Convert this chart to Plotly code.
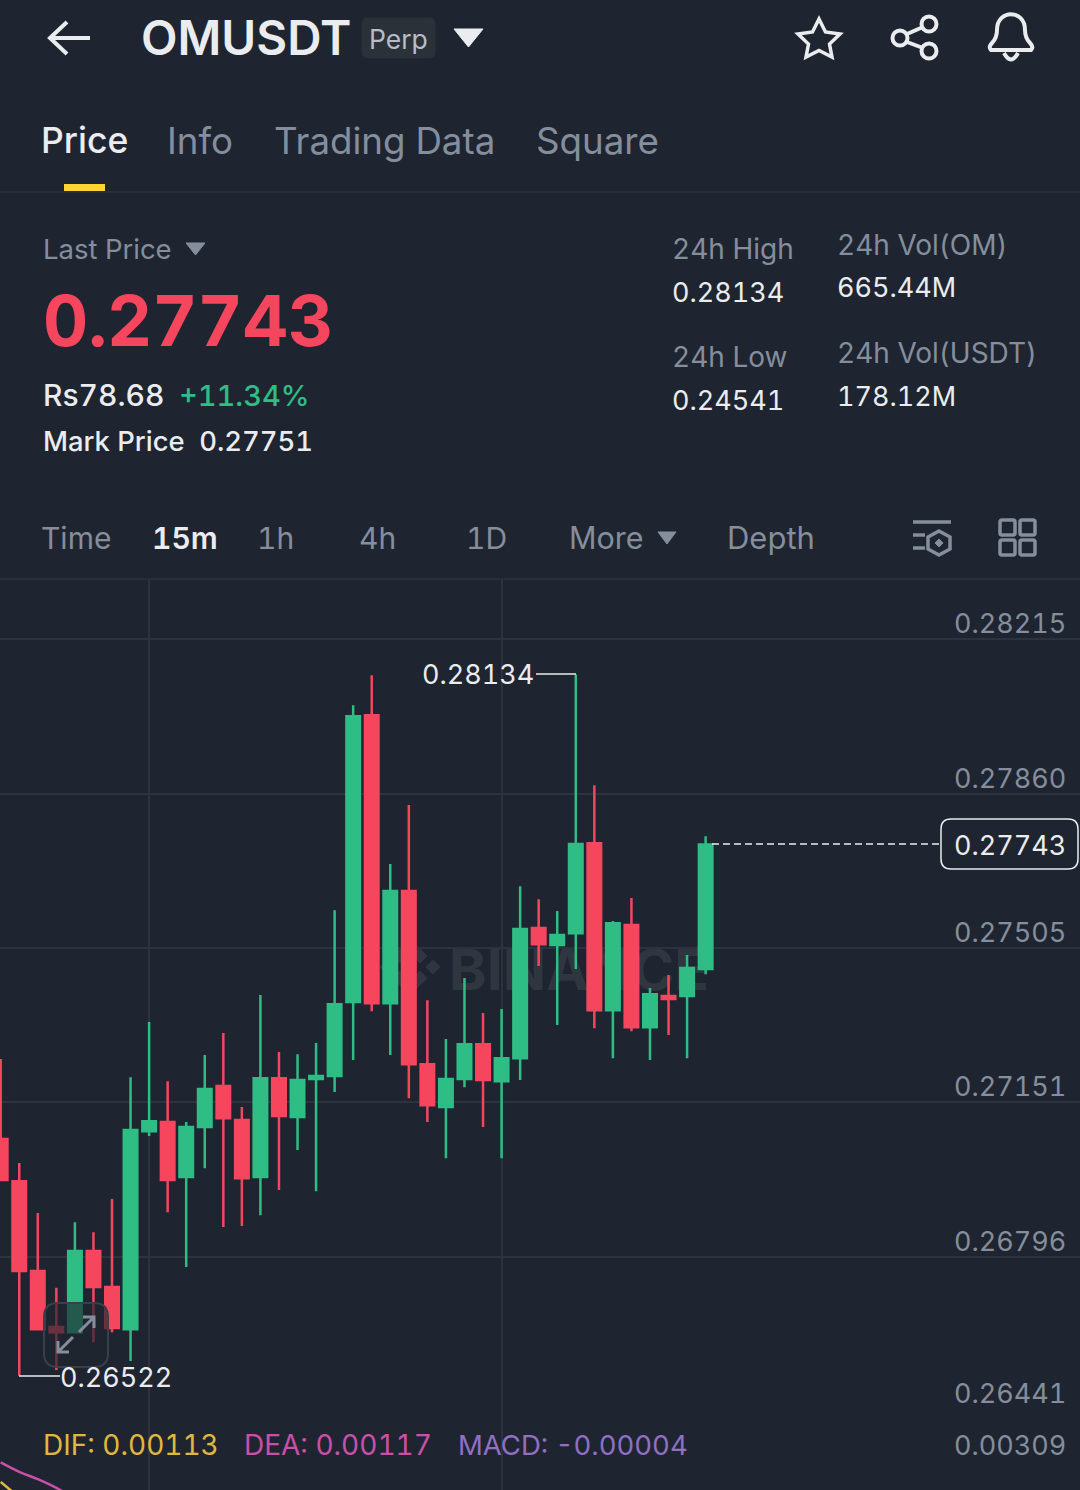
import plotly.graph_objects as go

FONT = "Inter"
BG = "#1f2530"
GRID = "#2d333e"
WHITE = "#eaecef"
GRAY = "#848e9c"
GREEN = "#2ebd85"
RED = "#f6465d"
W, H = 1080, 1490

# candles, oldest first
opens = [0.27066, 0.26969, 0.26763, 0.26634, 0.26622, 0.26809, 0.26726, 0.26629, 0.27084, 0.27105,
         0.26979, 0.27094, 0.27188, 0.27110, 0.26979, 0.27206, 0.27117, 0.27204, 0.27211, 0.27381,
         0.28040, 0.27378, 0.27636, 0.27238, 0.27140, 0.27204, 0.27284, 0.27199, 0.27252, 0.27551,
         0.27512, 0.27539, 0.27746, 0.27362, 0.27558, 0.27323, 0.27395, 0.27395, 0.27457]
highs = [0.27250, 0.27011, 0.26896, 0.26724, 0.26875, 0.26852, 0.26928, 0.27208, 0.27335, 0.27199,
         0.27105, 0.27259, 0.27310, 0.27140, 0.27397, 0.27266, 0.27261, 0.27287, 0.27592, 0.28063,
         0.28132, 0.27698, 0.27834, 0.27385, 0.27296, 0.27436, 0.27356, 0.27365, 0.27647, 0.27617,
         0.27590, 0.28134, 0.27879, 0.27567, 0.27620, 0.27413, 0.27443, 0.27489, 0.27762]
lows = [0.26969, 0.26522, 0.26627, 0.26535, 0.26620, 0.26599, 0.26622, 0.26556, 0.27073, 0.26898,
        0.26772, 0.26999, 0.26864, 0.26866, 0.26891, 0.26949, 0.27041, 0.26946, 0.27174, 0.27248,
        0.27360, 0.27259, 0.27160, 0.27105, 0.27022, 0.27185, 0.27094, 0.27022, 0.27202, 0.27464,
        0.27328, 0.27457, 0.27321, 0.27252, 0.27314, 0.27248, 0.27305, 0.27252, 0.27445]
closes = [0.26972, 0.26763, 0.26629, 0.26622, 0.26809, 0.26726, 0.26632, 0.27087, 0.27107, 0.26972,
          0.27094, 0.27181, 0.27114, 0.26976, 0.27206, 0.27119, 0.27202, 0.27211, 0.27376, 0.28038,
          0.27378, 0.27636, 0.27238, 0.27144, 0.27204, 0.27284, 0.27202, 0.27252, 0.27549, 0.27514,
          0.27535, 0.27744, 0.27362, 0.27562, 0.27323, 0.27399, 0.27388, 0.27459, 0.27743]
candle_idx = list(range(len(opens)))

price_ticks = [0.28215, 0.27860, 0.27505, 0.27151, 0.26796, 0.26441]
time_grid = [8, 27]

# only the left end of the MACD lines is on screen
dea_values = [0.00238, 0.00225, 0.00215, 0.00203, 0.00188]
dif_values = [0.00211, 0.00190, 0.00170]

tabs = ["Price", "Info", "Trading Data", "Square"]
periods = ["Time", "15m", "1h", "4h", "1D", "More", "Depth"]


def px(x):
    return x / W


def py(y):
    return 1 - y / H


def path_px(d):
    # pixel path -> paper path
    out = []
    nums = 0
    for tok in d.split():
        if tok.isalpha():
            out.append(tok)
            nums = 0
        else:
            v = float(tok)
            val = px(v) if nums % 2 == 0 else py(v)
            sep = "," if nums % 2 == 1 else " "
            out.append(f"{sep}{val:.6f}" if nums % 2 == 1 else f"{val:.6f}")
            nums += 1
    return " ".join(out).replace(" ,", ",")


def tabular(text):
    # the app's digits are all one width
    return f'<span style="font-variant-numeric:tabular-nums">{text}</span>'


shapes = []
annotations = []


def label(x, y, text, size, color=WHITE, anchor="left", weight=400):
    # glyphs have a little side bearing, pull left-anchored text back onto x
    x = x - 2 if anchor == "left" else x + 1
    annotations.append(
        dict(
            x=px(x), y=py(y), xref="paper", yref="paper", text=tabular(text), showarrow=False,
            xanchor=anchor, yanchor="middle", borderpad=0,
            font=dict(family=FONT, size=size, color=color, weight=weight),
        )
    )


def stroke(d, color=WHITE, width=4, fill=None, layer="above"):
    shapes.append(
        dict(
            type="path", path=path_px(d), xref="paper", yref="paper", layer=layer,
            line=dict(color=color, width=width),
            fillcolor=fill if fill else "rgba(0,0,0,0)",
        )
    )


def tri(x0, x1, y0, y1, color):
    stroke(f"M {x0} {y0} L {x1} {y0} L {(x0 + x1) / 2} {y1} Z", color=color, width=1, fill=color)


def circle(cx, cy, r, color=WHITE, width=4):
    shapes.append(
        dict(
            type="circle", xref="paper", yref="paper",
            x0=px(cx - r), x1=px(cx + r), y0=py(cy + r), y1=py(cy - r),
            line=dict(color=color, width=width),
        )
    )


def round_rect(x0, y0, x1, y1, r, color, width=2, fill=None):
    stroke(
        f"M {x0 + r} {y0} L {x1 - r} {y0} Q {x1} {y0} {x1} {y0 + r} L {x1} {y1 - r} Q {x1} {y1} {x1 - r} {y1} "
        f"L {x0 + r} {y1} Q {x0} {y1} {x0} {y1 - r} L {x0} {y0 + r} Q {x0} {y0} {x0 + r} {y0} Z",
        color=color, width=width, fill=fill,
    )


# header
stroke("M 50 38 L 90 38 M 67 22 L 50 38 L 67 54", width=4)
label(142, 38, "OMUSDT", 47.5, weight=600)
round_rect(362, 18, 435, 58, 6, "#2b3139", width=1, fill="#2b3139")
label(370, 39, "Perp", 26.5, "#b7bdc6")
tri(454, 483, 29, 47, WHITE)
stroke("M 819 19 L 825.5 32 L 840 34 L 829.5 44 L 832 57 L 819 50.5 L 806 57 L 808.5 44 L 798 34 L 812.5 32 Z", width=3.5)
circle(929, 24, 7.5)
circle(900, 38, 7.5)
circle(929, 51, 7.5)
stroke("M 907 34 L 923 27 M 907 42 L 923 48")
stroke("M 991 50 Q 988 47 992 43 Q 997 38 997 30 C 997 9 1025 9 1025 30 Q 1025 38 1030 43 Q 1034 47 1031 50 Z")
stroke("M 1004 53 Q 1011 66 1018 53")

# tabs
for name, x, col in zip(tabs, [42, 168, 275, 537], [WHITE, GRAY, GRAY, GRAY]):
    label(x, 141, name, 35.5 if name == "Price" else 36.7, col, weight=500 if name == "Price" else 400)
stroke("M 64 187.5 L 105 187.5", color="#fcd535", width=7)
stroke("M 0 192 L 1080 192", color=GRID, width=1.5)

# price block
label(44, 249, "Last Price", 27.5, GRAY)
tri(186, 205, 243, 255, GRAY)
label(44, 320, "0.27743", 70, RED, weight=700)
label(44, 395, "Rs78.68", 30, WHITE, weight=500)
label(180, 395, "+11.34%", 29, GREEN, weight=500)
label(44, 441, "Mark Price&nbsp;&nbsp;0.27751", 27.4, WHITE, weight=500)

label(673, 249, "24h High", 28, GRAY)
label(673, 292, "0.28134", 27, WHITE)
label(673, 357, "24h Low", 28, GRAY)
label(673, 400, "0.24541", 27, WHITE)
label(838, 245, "24h Vol(OM)", 28, GRAY)
label(838, 288, "665.44M", 27, WHITE)
label(838, 353, "24h Vol(USDT)", 28, GRAY)
label(838, 396, "178.12M", 27, WHITE)

# period row
for name, x, size in zip(periods, [42, 153, 258, 360, 467, 570, 728], [30, 30, 30, 30, 30, 30.5, 31]):
    if name == "15m":
        label(x, 538, name, size, WHITE, weight=600)
    else:
        label(x, 538, name, size, GRAY)
tri(658, 676, 532, 544, GRAY)
stroke("M 913 522 L 951 522 M 913 535 L 925 535 M 913 548 L 925 548", color=GRAY, width=3.5)
stroke("M 939 531 L 950 537 L 950 549 L 939 555 L 928 549 L 928 537 Z", color=GRAY, width=3.5)
stroke("M 939 539 L 943 543 L 939 547 L 935 543 Z", color=GRAY, width=1, fill=GRAY)
for x0, y0 in [(1000, 520), (1020, 520), (1000, 540), (1020, 540)]:
    round_rect(x0, y0, x0 + 15, y0 + 15, 2, GRAY, width=3.5)
stroke("M 0 579 L 1080 579", color=GRID, width=1.5)

# watermark sits under the candles
MARK = "#30363f"
stroke("M 410 939 L 427 956 L 420 963 L 410 953 L 400 963 L 393 956 Z", color=MARK, width=1, fill=MARK, layer="below")
stroke("M 410 995 L 427 978 L 420 971 L 410 981 L 400 971 L 393 978 Z", color=MARK, width=1, fill=MARK, layer="below")
for cx in [387, 410, 433]:
    stroke(f"M {cx} 960 L {cx + 7} 967 L {cx} 974 L {cx - 7} 967 Z", color=MARK, width=1, fill=MARK, layer="below")
shapes.append(
    dict(
        type="rect", xref="paper", yref="paper", layer="below",
        x0=px(450), x1=px(708), y0=py(992), y1=py(942),
        line=dict(width=0), fillcolor="rgba(0,0,0,0)",
        label=dict(text="<b>BINANCE</b>", textposition="middle center",
                   font=dict(family=FONT, size=57, color=MARK)),
    )
)

# high / low / last markers
stroke("M 536 674 L 576 674", color=WHITE, width=1.5)
label(534, 675, "0.28134", 27, WHITE, anchor="right")
stroke("M 19 1376 L 60 1376", color=WHITE, width=1.5)
label(61, 1377, "0.26522", 27, WHITE)
shapes.append(
    dict(
        type="line", xref="paper", yref="paper",
        x0=px(712), x1=px(940), y0=py(844), y1=py(844),
        line=dict(color=WHITE, width=1.5, dash="7px,4px"),
    )
)
round_rect(941, 819, 1078, 869, 10, WHITE, width=1.5, fill=BG)
label(1066, 845, "0.27743", 27, WHITE, anchor="right")

# expand button over the chart
round_rect(44, 1303, 108, 1367, 14, "#3a404b", width=2, fill="rgba(31,37,48,0.65)")
stroke("M 58 1352 L 73 1337 M 58 1341 L 58 1352 L 69 1352", color=GRAY, width=3)
stroke("M 79 1332 L 94 1317 M 83 1317 L 94 1317 L 94 1328", color=GRAY, width=3)

# MACD row
label(44, 1445, "DIF: 0.00113", 28, "#e0b83c")
label(245, 1445, "DEA: 0.00117", 28, "#c94fa8")
label(459, 1445, "MACD: -0.00004", 27.5, "#8f70c4")
label(1066, 1445, "0.00309", 27, GRAY, anchor="right")

# price scale labels float just above their grid lines
for v in price_ticks:
    annotations.append(
        dict(
            x=px(1067), y=v, xref="paper", yref="y", text=tabular(f"{v:.5f}"), showarrow=False,
            xanchor="right", yanchor="middle", yshift=18 if v == price_ticks[-1] else 15.5, borderpad=0,
            font=dict(family=FONT, size=27, color=GRAY),
        )
    )

fig = go.Figure()
fig.add_trace(
    go.Candlestick(
        x=candle_idx, open=opens, high=highs, low=lows, close=closes,
        increasing=dict(line=dict(color=GREEN, width=2.5), fillcolor=GREEN),
        decreasing=dict(line=dict(color=RED, width=2.5), fillcolor=RED),
        whiskerwidth=0, hoverinfo="skip", showlegend=False,
    )
)
fig.add_trace(
    go.Scatter(x=candle_idx[:len(dea_values)], y=dea_values, mode="lines", xaxis="x2", yaxis="y2",
               line=dict(color="#c94fa8", width=2.5, shape="spline"), hoverinfo="skip", showlegend=False)
)
fig.add_trace(
    go.Scatter(x=candle_idx[:len(dif_values)], y=dif_values, mode="lines", xaxis="x2", yaxis="y2",
               line=dict(color="#e0b83c", width=2.5, shape="spline"), hoverinfo="skip", showlegend=False)
)

x_range = [-0.0377, 58.18]
fig.update_layout(
    width=W, height=H,
    margin=dict(l=0, r=0, t=0, b=0),
    paper_bgcolor=BG, plot_bgcolor=BG,
    boxgap=0.272, boxgroupgap=0,
    showlegend=False,
    shapes=shapes,
    annotations=annotations,
    xaxis=dict(
        domain=[0, 1], range=x_range, anchor="y", rangeslider=dict(visible=False),
        tickmode="array", tickvals=time_grid, showticklabels=False, ticks="",
        showgrid=True, gridcolor=GRID, gridwidth=1.5, zeroline=False, showline=False,
    ),
    yaxis=dict(
        domain=[py(1411), py(580)], range=[0.26441, 0.28351], anchor="x", side="right",
        tickmode="array", tickvals=price_ticks, showticklabels=False, ticks="",
        showgrid=True, gridcolor=GRID, gridwidth=1.5, zeroline=False, showline=False,
    ),
    xaxis2=dict(
        domain=[0, 1], range=x_range, anchor="y2",
        tickmode="array", tickvals=time_grid, showticklabels=False, ticks="",
        showgrid=True, gridcolor=GRID, gridwidth=1.5, zeroline=False, showline=False,
    ),
    yaxis2=dict(
        domain=[0, py(1411)], range=[0.0020, 0.00309], anchor="x2",
        showticklabels=False, ticks="", showgrid=False, zeroline=False, showline=False,
    ),
)

fig.write_html(
    "out.html",
    config={"displayModeBar": False},
    post_script="document.body.style.margin='0';document.body.style.background='#1f2530';",
)
